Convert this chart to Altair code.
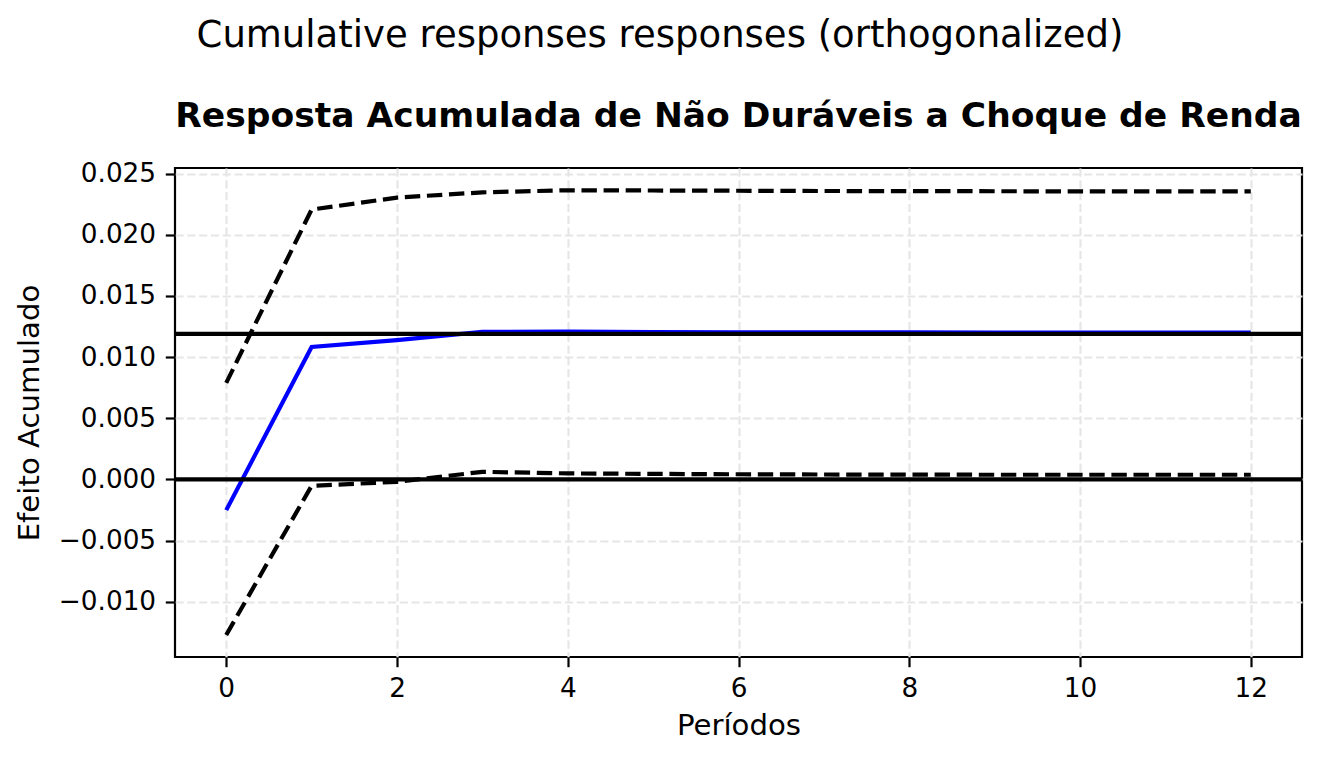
import altair as alt
import pandas as pd

# ---- data ----
periods = list(range(13))
irf = [-0.00251, 0.01083, 0.01138, 0.01206, 0.01208, 0.01205, 0.01203,
       0.01202, 0.01202, 0.01201, 0.01201, 0.01201, 0.01201]
upper = [0.00789, 0.02206, 0.02304, 0.02347, 0.02364, 0.02362, 0.02360,
         0.02358, 0.02357, 0.02356, 0.02355, 0.02355, 0.02355]
lower = [-0.01272, -0.00052, -0.00020, 0.00062, 0.00049, 0.00045, 0.00042,
         0.00040, 0.00039, 0.00038, 0.00038, 0.00038, 0.00038]
hlines = [0.0, 0.0119]
x_ticks = [0, 2, 4, 6, 8, 10, 12]
y_ticks = [-0.010, -0.005, 0.000, 0.005, 0.010, 0.015, 0.020, 0.025]

suptitle = "Cumulative responses responses (orthogonalized)"
title = "Resposta Acumulada de Não Duráveis a Choque de Renda"
x_label = "Períodos"
y_label = "Efeito Acumulado"

df = pd.DataFrame({"period": periods, "irf": irf, "upper": upper, "lower": lower})
df_h = pd.DataFrame({"h": hlines})
df_sup = pd.DataFrame({"t": [suptitle]})
df_title = pd.DataFrame({"t": [title]})

W, H = 1127, 489
FONT = "DejaVu Sans"

x_scale = alt.Scale(domain=[-0.6, 12.6], nice=False, zero=False)
y_scale = alt.Scale(domain=[-0.01452, 0.02546], nice=False, zero=False)

x_axis = alt.Axis(values=x_ticks, format="d", title=x_label,
                  labelBaseline="alphabetic", labelPadding=29.3,
                  titleX=W / 2, titleY=77, titleBaseline="alphabetic",
                  titleAlign="center")
y_axis = alt.Axis(values=y_ticks, format=".3f", title=y_label,
                  labelPadding=9.7, titleX=-137, titleY=H / 2,
                  titleAngle=270, titleBaseline="alphabetic",
                  titleAlign="center")

base = alt.Chart(df)

blue = base.mark_line(color="#0000ff", strokeWidth=4.2).encode(
    x=alt.X("period:Q", scale=x_scale, axis=x_axis),
    y=alt.Y("irf:Q", scale=y_scale, axis=y_axis),
)
up = base.mark_line(color="black", strokeWidth=4.2, strokeDash=[15.4, 6.7]).encode(
    x=alt.X("period:Q", scale=x_scale),
    y=alt.Y("upper:Q", scale=y_scale),
)
lo = base.mark_line(color="black", strokeWidth=4.2, strokeDash=[15.4, 6.7]).encode(
    x=alt.X("period:Q", scale=x_scale),
    y=alt.Y("lower:Q", scale=y_scale),
)
rules = alt.Chart(df_h).mark_rule(color="black", strokeWidth=4.2).encode(
    y=alt.Y("h:Q", scale=y_scale)
)
sup = alt.Chart(df_sup).mark_text(
    font=FONT, fontSize=37, color="black", align="center", baseline="alphabetic"
).encode(x=alt.value(485), y=alt.value(-121), text="t:N")
ttl = alt.Chart(df_title).mark_text(
    font=FONT, fontSize=34.5, fontWeight="bold", color="black", align="center",
    baseline="alphabetic"
).encode(x=alt.value(W / 2), y=alt.value(-41), text="t:N")

chart = alt.layer(blue, up, lo, rules, sup, ttl).properties(
    width=W,
    height=H,
    background="white",
    padding={"left": 167, "top": 160, "right": 12, "bottom": 95},
    autosize=alt.AutoSizeParams(type="none"),
).configure_view(
    stroke="black", strokeWidth=2.2
).configure_axis(
    labelFont=FONT, labelFontSize=26.3, labelColor="black",
    titleFont=FONT, titleFontSize=29.2, titleFontWeight="normal", titleColor="black",
    tickColor="black", tickSize=9.7, tickWidth=2.2, domain=False,
    grid=True, gridColor="#e6e6e6", gridWidth=2.2, gridDash=[8.2, 3.6],
)

chart.save("out.html", embed_options={"renderer": "svg", "actions": False})
